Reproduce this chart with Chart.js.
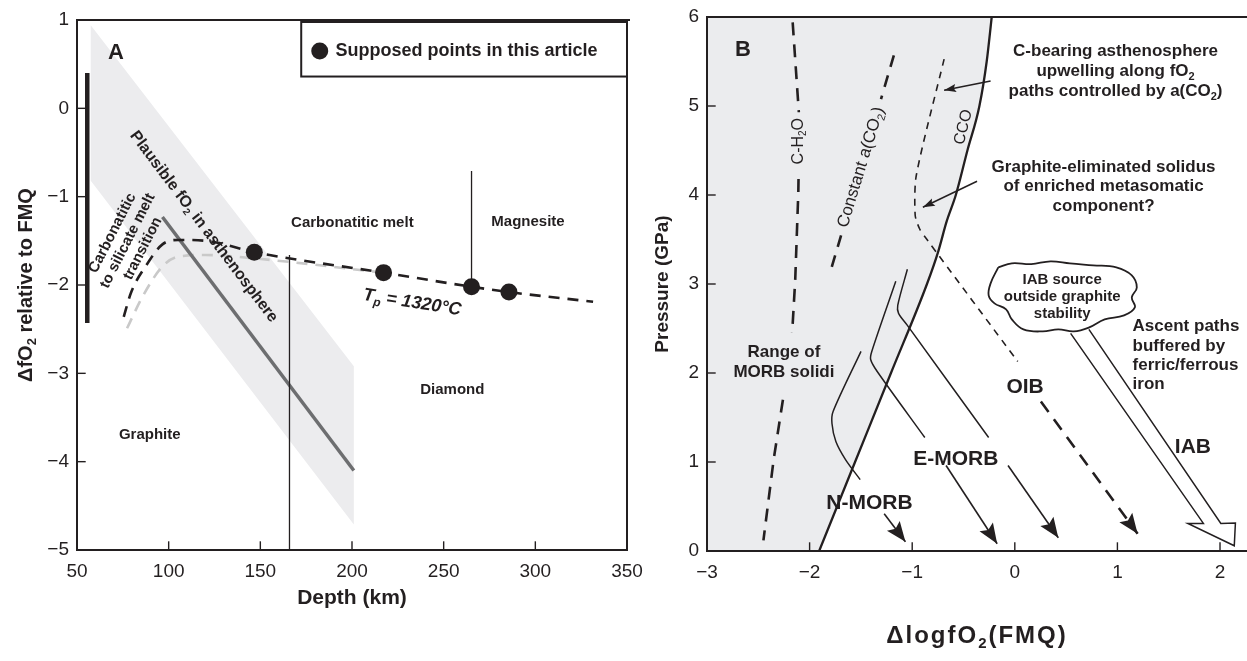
<!DOCTYPE html>
<html><head><meta charset="utf-8">
<script src="https://cdn.jsdelivr.net/npm/chart.js@4.4.1/dist/chart.umd.min.js"></script>
<style>
html,body{margin:0;padding:0;background:#ffffff;}
#wrap{position:relative;width:1247px;height:661px;overflow:hidden;background:#fff;}
canvas{position:absolute;top:0;}
</style></head><body>
<div id="wrap">
<canvas id="chartA" width="660" height="661" style="left:0px"></canvas>
<canvas id="chartB" width="607" height="661" style="left:640px"></canvas>
</div>
<script>
// ================= Panel A : ΔfO2 vs depth =================
const A_X_TICKS = [50, 100, 150, 200, 250, 300, 350];
const A_Y_TICKS = [1, 0, -1, -2, -3, -4, -5];
const A_BAND_DEPTH = [57.5, 201, 201, 57.5, 57.5];
const A_BAND_FO2   = [0.94, -2.92, -4.71, -0.82, 0.94];
const A_TREND_DEPTH = [96.6, 201];
const A_TREND_FO2   = [-1.23, -4.10];
const A_TP_DEPTH = [75.5, 79.4, 88, 96.6, 105.2, 120.2, 147.2, 217.2, 265.2, 285.6, 331.5];
const A_TP_FO2   = [-2.36, -2.09, -1.77, -1.54, -1.49, -1.50, -1.63, -1.86, -2.02, -2.08, -2.19];
const A_GREY_DEPTH = [77.3, 85.8, 96.6, 105.2, 120.2, 147.2, 217.2];
const A_GREY_FO2   = [-2.49, -2.13, -1.79, -1.68, -1.66, -1.70, -1.86];
const A_PT_DEPTH = [146.7, 217.2, 265.2, 285.6];
const A_PT_FO2   = [-1.63, -1.86, -2.02, -2.08];
const A_BAR_DEPTH = [55.6, 55.6];
const A_BAR_FO2   = [0.40, -2.43];
const A_BOUND1_DEPTH = [165.9, 165.9];
const A_BOUND1_FO2   = [-1.66, -5];
const A_BOUND2_DEPTH = [265.2, 265.2];
const A_BOUND2_FO2   = [-0.71, -2.02];

// ================= Panel B : P vs ΔlogfO2 =================
const B_X_TICKS = [-3, -2, -1, 0, 1, 2];
const B_Y_TICKS = [0, 1, 2, 3, 4, 5, 6];
const B_CCO_DFMQ = [-1.907, -1.557, -1.207, -0.856, -0.745, -0.665, -0.575, -0.462, -0.345, -0.274, -0.225];
const B_CCO_P    = [0, 1, 2, 3, 3.37, 3.7, 4, 4.5, 5, 5.5, 6];
const B_CH2O_1_DFMQ = [-2.165, -2.105];            const B_CH2O_1_P = [5.94, 4.93];
const B_CH2O_2_DFMQ = [-2.108, -2.11, -2.14, -2.17]; const B_CH2O_2_P = [4.18, 4.03, 3.05, 2.45];
const B_CH2O_3_DFMQ = [-2.26, -2.35, -2.45];        const B_CH2O_3_P = [1.70, 1.03, 0.12];
const B_ACO2_1_DFMQ = [-1.179, -1.304];             const B_ACO2_1_P = [5.57, 5.078];
const B_ACO2_2_DFMQ = [-1.693, -1.79];              const B_ACO2_2_P = [3.547, 3.167];
const B_GES_DFMQ = [-0.689, -0.960, -0.971, -0.926, -0.858, 0.028];
const B_GES_P    = [5.527, 4.222, 3.772, 3.615, 3.502, 2.130];
const B_OIB_DFMQ = [0.254, 1.197];                  const B_OIB_P = [1.680, 0.195];
const B_SOL1_DFMQ = [-1.499, -1.771, -1.782, -1.744, -1.650, -1.507];
const B_SOL1_P    = [2.243, 1.568, 1.433, 1.230, 1.027, 0.802];
const B_SOL2_DFMQ = [-1.160, -1.394, -1.405, -1.341, -0.877];
const B_SOL2_P    = [3.030, 2.242, 2.152, 2.017, 1.275];
const B_SOL3_DFMQ = [-1.047, -1.141, -1.133, -1.047, -0.255];
const B_SOL3_P    = [3.165, 2.760, 2.670, 2.535, 1.275];
const B_NMORB_DFMQ = [-1.273, -1.066];  const B_NMORB_P = [0.419, 0.104];
const B_EMORB1_DFMQ = [-0.670, -0.172]; const B_EMORB1_P = [0.960, 0.082];
const B_EMORB2_DFMQ = [-0.066, 0.424];  const B_EMORB2_P = [0.960, 0.149];
const B_NOTE1_DFMQ = [-0.236, -0.689];  const B_NOTE1_P = [5.28, 5.176];
const B_NOTE2_DFMQ = [-0.368, -0.896];  const B_NOTE2_P = [4.155, 3.862];
const B_CLOUD_DFMQ = [-0.161, -0.029, 0.160, 0.348, 0.537, 0.763, 0.989, 1.140, 1.189, 1.140, 1.170, 1.065, 0.876, 0.725, 0.575, 0.424, 0.273, 0.084, -0.029, -0.085, -0.198, -0.255, -0.236, -0.161];
const B_CLOUD_P    = [3.187, 3.232, 3.223, 3.255, 3.232, 3.210, 3.187, 3.097, 2.962, 2.850, 2.737, 2.647, 2.602, 2.512, 2.467, 2.490, 2.467, 2.490, 2.602, 2.715, 2.782, 2.872, 3.007, 3.187];
const B_IAB_DFMQ = [0.544, 1.838, 1.687, 2.139, 2.150, 2.008, 0.722];
const B_IAB_P    = [2.445, 0.310, 0.310, 0.059, 0.315, 0.310, 2.490];

// ================= styling / helpers =================
const INK = '#231f20';
const FONT = '"Liberation Sans", Arial, Helvetica, sans-serif';
const pts = (xs, ys) => xs.map((x, i) => ({x: x, y: ys[i]}));
const fmtNum = v => (v < 0 ? '\u2212' + Math.abs(v) : String(v));

function parseRich(s) {
  const parts = []; const re = /_\{([^}]*)\}/g; let last = 0, m;
  while ((m = re.exec(s))) {
    if (m.index > last) parts.push({t: s.slice(last, m.index), sub: false});
    parts.push({t: m[1], sub: true}); last = re.lastIndex;
  }
  if (last < s.length) parts.push({t: s.slice(last), sub: false});
  return parts;
}
function drawText(ctx, lines, x, y, o) {
  ctx.save(); ctx.translate(x, y); if (o.rot) ctx.rotate(o.rot * Math.PI / 180);
  ctx.fillStyle = INK; ctx.textBaseline = 'middle'; ctx.textAlign = 'left';
  if ('letterSpacing' in ctx) ctx.letterSpacing = (o.ls || 0) + 'px';
  const size = o.size, sub = Math.round(size * 0.64), lh = o.lh || size * 1.2;
  const font = sz => `${o.style || 'normal'} ${o.weight || 'bold'} ${sz}px ${FONT}`;
  lines.forEach((ln, i) => {
    const parts = parseRich(ln); let w = 0;
    parts.forEach(p => { ctx.font = font(p.sub ? sub : size); p.w = ctx.measureText(p.t).width; w += p.w; });
    let cx = o.align === 'left' ? 0 : (o.align === 'right' ? -w : -w / 2);
    const cy = (i - (lines.length - 1) / 2) * lh;
    parts.forEach(p => { ctx.font = font(p.sub ? sub : size); ctx.fillText(p.t, cx, cy + (p.sub ? size * 0.32 : 0)); cx += p.w; });
  });
  ctx.restore();
}

const DECOR = {};
const decorPlugin = {
  id: 'decor',
  afterDatasetsDraw(chart) {
    const ctx = chart.ctx;
    chart.data.datasets.forEach((ds, i) => {
      if (!ds.arrowHead) return;
      const el = chart.getDatasetMeta(i).data; const n = el.length; if (n < 2) return;
      const a = el[n - 2], b = el[n - 1];
      const ang = Math.atan2(b.y - a.y, b.x - a.x);
      const L = ds.arrowHead.len, H = ds.arrowHead.half;
      ctx.save(); ctx.translate(b.x, b.y); ctx.rotate(ang); ctx.fillStyle = INK;
      ctx.beginPath(); ctx.moveTo(0, 0); ctx.lineTo(-L, H); ctx.lineTo(-L * 0.82, 0); ctx.lineTo(-L, -H); ctx.closePath(); ctx.fill();
      ctx.restore();
    });
  },
  afterDraw(chart) {
    const d = DECOR[chart.canvas.id]; if (!d) return;
    const ctx = chart.ctx, xs = chart.scales.x, ys = chart.scales.y, ca = chart.chartArea;
    ctx.save(); ctx.strokeStyle = INK; ctx.lineCap = 'square';
    // inward ticks
    ctx.lineWidth = 1.4;
    d.xTicks.forEach(v => { const p = xs.getPixelForValue(v); ctx.beginPath(); ctx.moveTo(p, ca.bottom); ctx.lineTo(p, ca.bottom - 8); ctx.stroke(); });
    d.yTicks.forEach(v => { const p = ys.getPixelForValue(v); ctx.beginPath(); ctx.moveTo(ca.left, p); ctx.lineTo(ca.left + 8, p); ctx.stroke(); });
    // frame
    ctx.lineWidth = 2;
    const seg = (x1, y1, x2, y2) => { ctx.beginPath(); ctx.moveTo(x1, y1); ctx.lineTo(x2, y2); ctx.stroke(); };
    if (d.frame.includes('left')) seg(ca.left, ca.top, ca.left, ca.bottom);
    if (d.frame.includes('bottom')) seg(ca.left, ca.bottom, ca.right, ca.bottom);
    if (d.frame.includes('top')) seg(ca.left, ca.top, ca.right + 2, ca.top);
    if (d.frame.includes('right')) seg(ca.right, ca.top, ca.right, ca.bottom);
    // legend box
    if (d.legend) {
      const L = d.legend; const x0 = xs.getPixelForValue(L.boxLeft), y1 = ys.getPixelForValue(L.boxBottom);
      ctx.lineWidth = 2; ctx.strokeRect(x0, ca.top + 2, ca.right - x0, y1 - ca.top - 2);
      ctx.fillStyle = INK; ctx.beginPath();
      ctx.arc(xs.getPixelForValue(L.dotX), ys.getPixelForValue(L.dotY), 8.5, 0, Math.PI * 2); ctx.fill();
      drawText(ctx, [L.text], xs.getPixelForValue(L.textX), ys.getPixelForValue(L.dotY), {size: 18, align: 'left'});
    }
    ctx.restore();
    // labels in data coordinates
    d.labels.forEach(l => drawText(ctx, l.lines, xs.getPixelForValue(l.x), ys.getPixelForValue(l.y), l));
    // axis titles (canvas coordinates)
    d.titles.forEach(t => drawText(ctx, [t.text], t.px, t.py, t));
  }
};

function xScale(min, max, ticks, h) {
  return {type: 'linear', position: 'bottom', min: min, max: max,
    afterBuildTicks: s => { s.ticks = ticks.map(v => ({value: v})); },
    afterFit: s => { s.height = h; s.paddingLeft = 0; s.paddingRight = 0; },
    grid: {display: false, drawTicks: false}, border: {display: false},
    ticks: {color: INK, font: {family: FONT, size: 19}, padding: 10, maxRotation: 0, minRotation: 0, autoSkip: false, callback: v => fmtNum(v)}};
}
function yScale(min, max, ticks, w) {
  return {type: 'linear', position: 'left', min: min, max: max,
    afterBuildTicks: s => { s.ticks = ticks.map(v => ({value: v})); },
    afterFit: s => { s.width = w; s.paddingTop = 0; s.paddingBottom = 0; },
    grid: {display: false, drawTicks: false}, border: {display: false},
    ticks: {color: INK, font: {family: FONT, size: 19}, padding: 8, autoSkip: false, callback: v => fmtNum(v)}};
}
function lineDs(xs, ys, o) {
  return Object.assign({data: pts(xs, ys), borderColor: INK, backgroundColor: 'rgba(0,0,0,0)', borderWidth: 1.5,
    pointRadius: 0, fill: false, tension: 0, showLine: true}, o || {});
}
function makeChart(id, datasets, sx, sy, pad) {
  return new Chart(document.getElementById(id), {
    type: 'line', data: {datasets: datasets},
    options: {responsive: false, animation: false, events: [], devicePixelRatio: 1,
      layout: {padding: pad},
      plugins: {legend: {display: false}, tooltip: {enabled: false}},
      scales: {x: sx, y: sy}},
    plugins: [decorPlugin]});
}

// ---------- Panel A ----------
DECOR.chartA = {
  frame: ['left', 'bottom', 'top', 'right'], xTicks: A_X_TICKS, yTicks: A_Y_TICKS,
  legend: {boxLeft: 172.3, boxBottom: 0.36, dotX: 182.4, dotY: 0.648, textX: 191, text: 'Supposed points in this article'},
  labels: [
    {x: 71.2, y: 0.63, lines: ['A'], size: 22},
    {x: 200.2, y: -1.30, lines: ['Carbonatitic melt'], size: 15},
    {x: 296, y: -1.29, lines: ['Magnesite'], size: 15},
    {x: 254.7, y: -3.19, lines: ['Diamond'], size: 15},
    {x: 89.7, y: -3.70, lines: ['Graphite'], size: 15},
    {x: 119.1, y: -1.34, lines: ['Plausible fO_{2} in asthenosphere'], size: 16, rot: 53},
    {x: 77.6, y: -1.50, lines: ['Carbonatitic', 'to silicate melt', 'transition'], size: 15, rot: -63, lh: 17},
    {x: 232.8, y: -2.20, lines: ['T_{p} = 1320\u00B0C'], size: 18, rot: 9, style: 'italic'}
  ],
  titles: [
    {px: 26, py: 285, text: '\u0394fO_{2} relative to FMQ', size: 20, rot: -90},
    {px: 352, py: 598, text: 'Depth (km)', size: 21}
  ]
};
makeChart('chartA', [
  lineDs(A_PT_DEPTH, A_PT_FO2, {showLine: false, pointRadius: 8.5, pointBackgroundColor: INK, pointBorderWidth: 0, order: 1}),
  lineDs(A_TP_DEPTH, A_TP_FO2, {borderWidth: 2.6, borderDash: [11, 8], cubicInterpolationMode: 'monotone', tension: 0.4, order: 2}),
  lineDs(A_BAR_DEPTH, A_BAR_FO2, {borderWidth: 4.5, order: 2}),
  lineDs(A_BOUND1_DEPTH, A_BOUND1_FO2, {borderWidth: 1.3, order: 3}),
  lineDs(A_BOUND2_DEPTH, A_BOUND2_FO2, {borderWidth: 1.3, order: 3}),
  lineDs(A_TREND_DEPTH, A_TREND_FO2, {borderWidth: 3.5, borderColor: '#6d6e70', order: 4}),
  lineDs(A_GREY_DEPTH, A_GREY_FO2, {borderWidth: 2.6, borderDash: [11, 8], borderColor: '#c9c9c9', cubicInterpolationMode: 'monotone', tension: 0.4, order: 5}),
  lineDs(A_BAND_DEPTH, A_BAND_FO2, {borderWidth: 0, borderColor: 'rgba(0,0,0,0)', backgroundColor: '#ececee', fill: 'shape', order: 10})
], xScale(50, 350, A_X_TICKS, 111), yScale(-5, 1, A_Y_TICKS, 77), {left: 0, right: 33, top: 20, bottom: 0});

// ---------- Panel B ----------
DECOR.chartB = {
  frame: ['left', 'bottom', 'top'], xTicks: B_X_TICKS, yTicks: B_Y_TICKS,
  labels: [
    {x: -2.649, y: 5.626, lines: ['B'], size: 22},
    {x: -2.11, y: 4.605, lines: ['C-H_{2}O'], size: 16, weight: 'normal', rot: -90},
    {x: -1.499, y: 4.312, lines: ['Constant a(CO_{2})'], size: 17, weight: 'normal', rot: -73},
    {x: -0.50, y: 4.762, lines: ['CCO'], size: 16, weight: 'normal', rot: -76},
    {x: 0.982, y: 5.392, lines: ['C-bearing asthenosphere', 'upwelling along fO_{2}', 'paths controlled by a(CO_{2})'], size: 17, lh: 20},
    {x: 0.865, y: 4.096, lines: ['Graphite-eliminated solidus', 'of enriched metasomatic', 'component?'], size: 17, lh: 19.6},
    {x: -2.25, y: 2.117, lines: ['Range of', 'MORB solidi'], size: 17, lh: 20},
    {x: 0.462, y: 2.850, lines: ['IAB source', 'outside graphite', 'stability'], size: 15, lh: 17},
    {x: 1.148, y: 2.197, lines: ['Ascent paths', 'buffered by', 'ferric/ferrous', 'iron'], size: 17, lh: 19.2, align: 'left'},
    {x: 0.10, y: 1.837, lines: ['OIB'], size: 21},
    {x: -0.575, y: 1.027, lines: ['E-MORB'], size: 21},
    {x: -1.416, y: 0.541, lines: ['N-MORB'], size: 21},
    {x: 1.736, y: 1.171, lines: ['IAB'], size: 21}
  ],
  titles: [
    {px: 23, py: 284, text: 'Pressure (GPa)', size: 19, rot: -90},
    {px: 337, py: 636, text: '\u0394logfO_{2}(FMQ)', size: 24, ls: 2}
  ]
};
const B_SHADE_X = B_CCO_DFMQ.concat([-3, -3]);
const B_SHADE_P = B_CCO_P.concat([6, 0]);
const HEAD = {len: 20, half: 8};
makeChart('chartB', [
  lineDs(B_NOTE1_DFMQ, B_NOTE1_P, {borderWidth: 1.5, arrowHead: {len: 12, half: 4}, order: 1}),
  lineDs(B_NOTE2_DFMQ, B_NOTE2_P, {borderWidth: 1.5, arrowHead: {len: 12, half: 4}, order: 1}),
  lineDs(B_NMORB_DFMQ, B_NMORB_P, {borderWidth: 1.6, arrowHead: HEAD, order: 1}),
  lineDs(B_EMORB1_DFMQ, B_EMORB1_P, {borderWidth: 1.6, arrowHead: HEAD, order: 1}),
  lineDs(B_EMORB2_DFMQ, B_EMORB2_P, {borderWidth: 1.6, arrowHead: HEAD, order: 1}),
  lineDs(B_OIB_DFMQ, B_OIB_P, {borderWidth: 2.6, borderDash: [13, 9], arrowHead: HEAD, order: 1}),
  lineDs(B_IAB_DFMQ, B_IAB_P, {borderWidth: 1.5, order: 1}),
  lineDs(B_CLOUD_DFMQ, B_CLOUD_P, {borderWidth: 1.8, tension: 0.4, order: 1}),
  lineDs(B_SOL1_DFMQ, B_SOL1_P, {borderWidth: 1.5, tension: 0.3, order: 2}),
  lineDs(B_SOL2_DFMQ, B_SOL2_P, {borderWidth: 1.5, tension: 0.3, order: 2}),
  lineDs(B_SOL3_DFMQ, B_SOL3_P, {borderWidth: 1.5, tension: 0.3, order: 2}),
  lineDs(B_GES_DFMQ, B_GES_P, {borderWidth: 1.6, borderDash: [7, 6], tension: 0.25, order: 3}),
  lineDs(B_CCO_DFMQ, B_CCO_P, {borderWidth: 2.3, cubicInterpolationMode: 'monotone', tension: 0.4, order: 3}),
  lineDs(B_CH2O_1_DFMQ, B_CH2O_1_P, {borderWidth: 2.6, borderDash: [13, 9], order: 4}),
  lineDs(B_CH2O_2_DFMQ, B_CH2O_2_P, {borderWidth: 2.6, borderDash: [13, 9], order: 4}),
  lineDs(B_CH2O_3_DFMQ, B_CH2O_3_P, {borderWidth: 2.6, borderDash: [13, 9], order: 4}),
  lineDs(B_ACO2_1_DFMQ, B_ACO2_1_P, {borderWidth: 2.6, borderDash: [12, 9], order: 4}),
  lineDs(B_ACO2_2_DFMQ, B_ACO2_2_P, {borderWidth: 2.6, borderDash: [12, 9], order: 4}),
  lineDs(B_SHADE_X, B_SHADE_P, {borderWidth: 0, borderColor: 'rgba(0,0,0,0)', backgroundColor: '#ebecee', fill: 'shape', order: 10})
], xScale(-3, 2.263, B_X_TICKS, 110), yScale(0, 6, B_Y_TICKS, 67), {left: 0, right: 0, top: 17, bottom: 0});
</script>
</body></html>
